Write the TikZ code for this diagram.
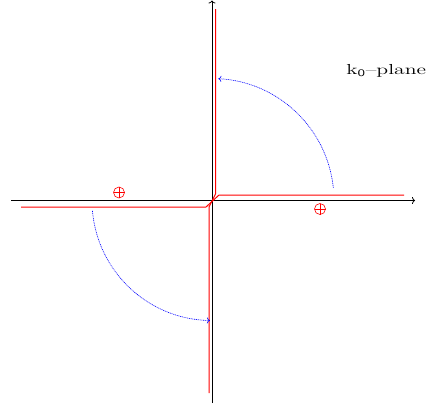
\documentclass[tikz,border=0pt]{standalone}
\usetikzlibrary{arrows.meta,calc}
\begin{document}
\begin{tikzpicture}[x=1pt,y=-1pt,
  axis/.style={black,line width=0.8pt},
  contour/.style={red,line width=1pt},
  rot/.style={blue,line width=0.6pt,dash pattern=on 1pt off 0.8pt,-{To[length=3pt,width=6pt]}},
  pole/.style={red,line width=0.6pt}]
\useasboundingbox (0,0) rectangle (433,408);
\coordinate (O) at (212,200.5);
\coordinate (xl) at (11,200.5);
\coordinate (xr) at (415,200.5);
\coordinate (yb) at (212,403);
\coordinate (yt) at (212,0.5);
\draw[axis,-{To[length=3pt,width=7pt]}] (xl) -- (xr);
\draw[axis,-{To[length=3pt,width=7pt]}] (yb) -- (yt);
% real-axis contour
\draw[contour] (21,207) -- (206,207) -- (219,195) -- (404,195);
% rotated contour
\draw[contour] (209,393) -- (209,207) -- (215.5,194) -- (215.5,9);
% poles
\foreach \n/\px/\py in {pa/119/192.5, pb/320/209}{
  \coordinate (\n) at (\px,\py);
  \draw[pole] (\n) circle (5.5);
  \draw[pole] ([xshift=-5.5pt]\n) -- ([xshift=5.5pt]\n);
  \draw[pole] ([yshift=-5.5pt]\n) -- ([yshift=5.5pt]\n);
}
% Wick rotation arrows
\draw[rot] ($(O)+(-6:122)$) arc (-6:-87:122);
\draw[rot] ($(O)+(175:120)$) arc (175:91:120);
\node[anchor=base west,inner sep=0pt,font=\fontsize{14.5}{17}\selectfont,xscale=1.5] (lab) at (346,74) {k$_{\mathsf{0}}$--plane};
\end{tikzpicture}
\end{document}
